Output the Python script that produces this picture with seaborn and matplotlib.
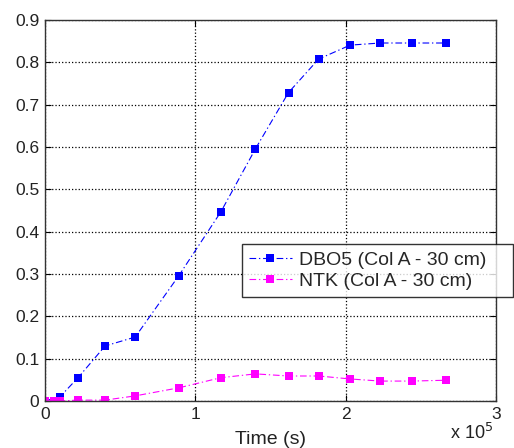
import seaborn as sns
import numpy as np
import pandas as pd
from matplotlib import pyplot as plt

# values (time in s)
time_dbo5 = [0, 0.10e5, 0.22e5, 0.40e5, 0.60e5, 0.89e5, 1.17e5, 1.40e5,
             1.62e5, 1.82e5, 2.03e5, 2.23e5, 2.44e5, 2.67e5]
dbo5 = [0.0, 0.010, 0.055, 0.130, 0.151, 0.296, 0.447, 0.596,
        0.729, 0.808, 0.841, 0.846, 0.846, 0.846]

time_ntk = [0, 0.06e5, 0.10e5, 0.22e5, 0.40e5, 0.60e5, 0.89e5, 1.17e5, 1.40e5,
            1.62e5, 1.82e5, 2.03e5, 2.23e5, 2.44e5, 2.67e5]
ntk = [0.0, 0.0, 0.0, 0.002, 0.002, 0.012, 0.031, 0.055, 0.064,
       0.059, 0.059, 0.052, 0.047, 0.047, 0.049]

x_ticks = [0, 1e5, 2e5, 3e5]
x_tick_labels = ['0', '1', '2', '3']
y_ticks = [0, 0.1, 0.2, 0.3, 0.4, 0.5, 0.6, 0.7, 0.8, 0.9]

sns.set_theme(style='white')
plt.rcParams['font.family'] = ['Liberation Sans', 'DejaVu Sans']

fig = plt.figure(figsize=(5.14, 4.48), dpi=100)
ax = fig.add_axes([0.0875, 0.105, 0.8775, 0.850])

df_dbo5 = pd.DataFrame({'t': time_dbo5, 'v': dbo5})
df_ntk = pd.DataFrame({'t': time_ntk, 'v': ntk})

dash = (6, 2.5, 1.2, 2.5)
sns.lineplot(data=df_dbo5, x='t', y='v', ax=ax, color='#0000ff',
             dashes=False, linewidth=0.8, marker='s', markersize=5.5,
             markeredgewidth=0, label='DBO5 (Col A - 30 cm)')
sns.lineplot(data=df_ntk, x='t', y='v', ax=ax, color='#ff00ff',
             dashes=False, linewidth=0.8, marker='s', markersize=5.5,
             markeredgewidth=0, label='NTK (Col A - 30 cm)')
for ln in ax.get_lines():
    ln.set_dashes(dash)

ax.set_xlim(0, 3e5)
ax.set_ylim(0, 0.9)
ax.set_xticks(x_ticks)
ax.set_xticklabels(x_tick_labels)
ax.set_yticks(y_ticks)
ax.set_yticklabels(['0'] + ['%.1f' % v for v in y_ticks[1:]])
ax.grid(True, color='black', linestyle=':', linewidth=0.9)
ax.tick_params(direction='in', length=4, width=0.8, colors='black',
               labelsize=12.5, top=True, right=True, bottom=True, left=True,
               pad=4)
for tl in ax.get_xticklabels() + ax.get_yticklabels():
    tl.set_color('#222222')
for sp in ax.spines.values():
    sp.set_color('#333333')
    sp.set_linewidth(1.0)

ax.set_xlabel('Time (s)', fontsize=14, color='#222222', labelpad=7)
ax.set_ylabel('')
fig.text(0.875, 0.020, r'x 10$^{5}$', fontsize=13, color='#222222')

leg = ax.legend(loc='upper left', bbox_to_anchor=(0.471, 0.33, 0.527, 0.125),
                bbox_transform=fig.transFigure, borderaxespad=0, mode='expand',
                fontsize=14, frameon=True, fancybox=False, handlelength=2.2,
                handletextpad=0.4, borderpad=0.35, labelspacing=0.2)
leg.get_frame().set_edgecolor('black')
leg.get_frame().set_linewidth(1.0)
leg.set_zorder(5)

plt.savefig('out.png', dpi=100)
plt.close()
